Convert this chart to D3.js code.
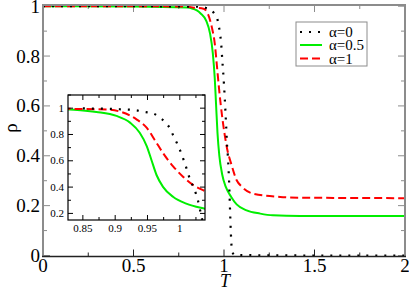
<!DOCTYPE html>
<html><head><meta charset="utf-8">
<script src="https://cdn.jsdelivr.net/npm/d3@7"></script>
<style>body{margin:0;background:#fff}svg{display:block}</style>
</head><body>
<script>
// ---- data ----
const tAlpha0 = [0, 0.5, 0.85, 0.9, 0.93, 0.946, 0.959, 0.967, 0.977, 0.985, 0.99, 0.995, 1.0, 1.004, 1.008, 1.012, 1.016, 1.021, 1.025, 1.028, 1.033, 1.038, 1.042, 1.05, 1.06, 1.5, 2.0];
const rhoAlpha0 = [1, 1, 0.998, 0.993, 0.985, 0.971, 0.96, 0.936, 0.895, 0.844, 0.79, 0.74, 0.685, 0.633, 0.577, 0.518, 0.454, 0.402, 0.35, 0.30, 0.19, 0.09, 0.035, 0.008, 0.002, 0, 0];
const tAlpha05 = [0, 0.5, 0.8, 0.827, 0.85, 0.871, 0.902, 0.923, 0.938, 0.949, 0.956, 0.964, 0.974, 0.99, 1.01, 1.039, 1.07, 1.125, 1.2, 1.27, 1.42, 2.0];
const rhoAlpha05 = [1, 0.999, 0.995, 0.99, 0.983, 0.971, 0.941, 0.89, 0.813, 0.71, 0.608, 0.492, 0.402, 0.325, 0.275, 0.236, 0.205, 0.181, 0.168, 0.161, 0.158, 0.158];
const tAlpha1 = [0, 0.5, 0.8, 0.827, 0.887, 0.912, 0.933, 0.949, 0.961, 0.974, 0.99, 1.005, 1.021, 1.036, 1.07, 1.1, 1.162, 1.31, 1.42, 2.0];
const rhoAlpha1 = [1, 1, 0.998, 0.995, 0.99, 0.967, 0.915, 0.85, 0.76, 0.659, 0.556, 0.479, 0.415, 0.377, 0.302, 0.275, 0.248, 0.235, 0.232, 0.23];
const seriesNames = ["α=0", "α=0.5", "α=1"];
const mainXTicks = [0, 0.5, 1, 1.5, 2];
const mainXTickLabels = ["0", "0.5", "1", "1.5", "2"];
const mainYTicks = [0, 0.2, 0.4, 0.6, 0.8, 1];
const mainYTickLabels = ["0", "0.2", "0.4", "0.6", "0.8", "1"];
const insetXTicks = [0.85, 0.9, 0.95, 1];
const insetXTickLabels = ["0.85", "0.9", "0.95", "1"];
const insetYTicks = [0.2, 0.4, 0.6, 0.8, 1];
const insetYTickLabels = ["0.2", "0.4", "0.6", "0.8", "1"];

// ---- styles ----
const styles = [
  {color: "#000", dash: "2,7", width: 2.2},
  {color: "#00ee00", dash: null, width: 2},
  {color: "#ff0000", dash: "8,4", width: 2}
];
const data = [
  tAlpha0.map((t, i) => [t, rhoAlpha0[i]]),
  tAlpha05.map((t, i) => [t, rhoAlpha05[i]]),
  tAlpha1.map((t, i) => [t, rhoAlpha1[i]])
];
const serif = '"Liberation Serif"';

const W = 409, H = 289;
const svg = d3.select("body").append("svg").attr("width", W).attr("height", H);

// main scales
const mL = 43, mR = 405, mT = 5, mB = 256.5;
const x = d3.scaleLinear([0, 2], [mL, mR]);
const y = d3.scaleLinear([0, 1], [255.5, 6.2]);

svg.append("defs").append("clipPath").attr("id", "clipMain")
  .append("rect").attr("x", mL).attr("y", mT - 2).attr("width", mR - mL).attr("height", mB - mT + 2);

// main ticks
const gray = "#8c8c8c";
const tk = svg.append("g");
d3.range(0, 2.0001, 0.25).forEach(v => {
  const major = Math.abs(v * 2 - Math.round(v * 2)) < 1e-6;
  const len = major ? 7 : 4;
  tk.append("line").attr("x1", x(v)).attr("x2", x(v)).attr("y1", mB).attr("y2", mB - len).attr("stroke", "#222").attr("stroke-width", 1);
  tk.append("line").attr("x1", x(v)).attr("x2", x(v)).attr("y1", mT).attr("y2", mT + len).attr("stroke", gray).attr("stroke-width", 1);
});
d3.range(0, 1.0001, 0.1).forEach(v => {
  const major = Math.abs(v * 5 - Math.round(v * 5)) < 1e-6;
  const len = major ? 7 : 4;
  tk.append("line").attr("x1", mL).attr("x2", mL + len).attr("y1", y(v)).attr("y2", y(v)).attr("stroke", gray).attr("stroke-width", 1);
  tk.append("line").attr("x1", mR).attr("x2", mR - len).attr("y1", y(v)).attr("y2", y(v)).attr("stroke", gray).attr("stroke-width", 1);
});

// main curves
const lineMain = d3.line().x(d => x(d[0])).y(d => y(d[1])).curve(d3.curveMonotoneX);
const gm = svg.append("g").attr("clip-path", "url(#clipMain)");
[1, 2, 0].forEach(i => {
  gm.append("path").attr("d", lineMain(data[i])).attr("fill", "none")
    .attr("stroke", styles[i].color).attr("stroke-width", styles[i].width)
    .attr("stroke-dasharray", styles[i].dash);
});

// main frame
svg.append("line").attr("x1", mL).attr("x2", mR).attr("y1", mT).attr("y2", mT).attr("stroke", gray).attr("stroke-width", 2);
svg.append("line").attr("x1", mL).attr("x2", mL).attr("y1", mT - 1).attr("y2", mB).attr("stroke", gray).attr("stroke-width", 2);
svg.append("line").attr("x1", mR).attr("x2", mR).attr("y1", mT - 1).attr("y2", mB).attr("stroke", gray).attr("stroke-width", 2);
svg.append("line").attr("x1", mL - 1).attr("x2", mR + 1).attr("y1", mB).attr("y2", mB).attr("stroke", "#222").attr("stroke-width", 1.3);

// main tick labels
mainXTicks.forEach((v, i) => {
  svg.append("text").attr("x", x(v)).attr("y", 272).attr("text-anchor", "middle")
    .style("font-family", serif).style("font-size", "19px").text(mainXTickLabels[i]);
});
mainYTicks.forEach((v, i) => {
  svg.append("text").attr("x", 40).attr("y", Math.max(y(v) + 6.5, 13)).attr("text-anchor", "end")
    .style("font-family", serif).style("font-size", "19px").text(mainYTickLabels[i]);
});
svg.append("text").attr("x", 225).attr("y", 287).attr("text-anchor", "middle")
  .style("font-family", serif).style("font-style", "italic").style("font-size", "18px").text("T");
svg.append("text").attr("transform", "translate(17,128) rotate(-90)").attr("text-anchor", "middle")
  .style("font-family", serif).style("font-size", "19px").text("ρ");

// ---- inset ----
const iL = 68, iR = 205, iT = 95, iB = 220;
const xi = d3.scaleLinear([0.827, 1.039], [iL, iR]);
const yi = d3.scaleLinear([0.15, 1.1], [iB, iT]);
svg.append("rect").attr("x", iL).attr("y", iT).attr("width", iR - iL).attr("height", iB - iT).attr("fill", "#fff");
svg.select("defs").append("clipPath").attr("id", "clipInset")
  .append("rect").attr("x", iL).attr("y", iT).attr("width", iR - iL).attr("height", iB - iT);
const lineIn = d3.line().x(d => xi(d[0])).y(d => yi(d[1])).curve(d3.curveMonotoneX);
const gi = svg.append("g").attr("clip-path", "url(#clipInset)");
[1, 2, 0].forEach(i => {
  gi.append("path").attr("d", lineIn(data[i].filter(d => d[0] > 0.7 && d[0] < 1.2))).attr("fill", "none")
    .attr("stroke", styles[i].color).attr("stroke-width", styles[i].width)
    .attr("stroke-dasharray", styles[i].dash);
});
const ti = svg.append("g");
d3.range(0.85, 1.0301, 0.025).forEach(v => {
  const major = Math.abs(v * 20 - Math.round(v * 20)) < 1e-6;
  const len = major ? 5 : 3;
  ti.append("line").attr("x1", xi(v)).attr("x2", xi(v)).attr("y1", iB).attr("y2", iB - len).attr("stroke", "#000");
  ti.append("line").attr("x1", xi(v)).attr("x2", xi(v)).attr("y1", iT).attr("y2", iT + len).attr("stroke", "#000");
});
d3.range(0.2, 1.1001, 0.1).forEach(v => {
  const major = Math.abs(v * 5 - Math.round(v * 5)) < 1e-6;
  const len = major ? 5 : 3;
  ti.append("line").attr("x1", iL).attr("x2", iL + len).attr("y1", yi(v)).attr("y2", yi(v)).attr("stroke", "#000");
  ti.append("line").attr("x1", iR).attr("x2", iR - len).attr("y1", yi(v)).attr("y2", yi(v)).attr("stroke", "#000");
});
svg.append("rect").attr("x", iL).attr("y", iT).attr("width", iR - iL).attr("height", iB - iT)
  .attr("fill", "none").attr("stroke", "#000").attr("stroke-width", 1.2);
insetXTicks.forEach((v, i) => {
  svg.append("text").attr("x", xi(v)).attr("y", 232).attr("text-anchor", "middle")
    .style("font-family", serif).style("font-size", "11px").text(insetXTickLabels[i]);
});
insetYTicks.forEach((v, i) => {
  svg.append("text").attr("x", 64).attr("y", yi(v) + 3.5).attr("text-anchor", "end")
    .style("font-family", serif).style("font-size", "11px").text(insetYTickLabels[i]);
});

// ---- legend ----
const lg = svg.append("g");
lg.append("rect").attr("x", 296).attr("y", 22).attr("width", 71).attr("height", 44)
  .attr("fill", "#fff").attr("stroke", gray).attr("stroke-width", 1);
const legY = [32, 45, 58.5];
seriesNames.forEach((name, i) => {
  lg.append("line").attr("x1", 300).attr("x2", 322).attr("y1", legY[i]).attr("y2", legY[i])
    .attr("stroke", styles[i].color).attr("stroke-width", styles[i].width)
    .attr("stroke-dasharray", styles[i].dash);
  lg.append("text").attr("x", 329).attr("y", legY[i] + 5).style("font-family", serif)
    .style("font-size", "15px").text(name);
});
</script>
</body></html>
